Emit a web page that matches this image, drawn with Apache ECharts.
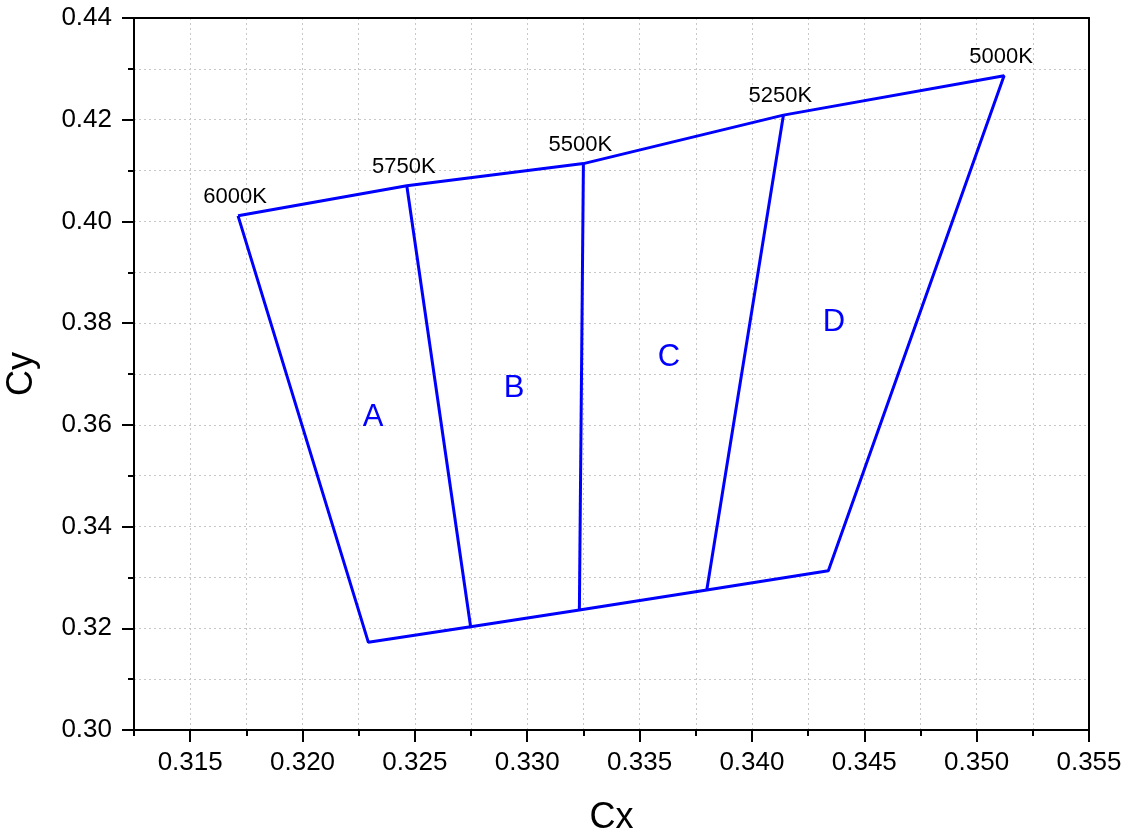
<!DOCTYPE html>
<html><head><meta charset="utf-8">
<script src="https://cdn.jsdelivr.net/npm/echarts@6/dist/echarts.min.js"></script>
<style>html,body{margin:0;padding:0;background:#fff}#c{width:1129px;height:834px}</style>
</head><body><div id="c"></div>
<script>
// CCT labels and top (Planckian side) points
const cctLabels = ['6000K', '5750K', '5500K', '5250K', '5000K'];
const topX = [0.31713, 0.32464, 0.33250, 0.34140, 0.35122];
const topY = [0.40110, 0.40700, 0.41137, 0.42090, 0.42865];
// bottom points (left to right)
const bottomX = [0.32293, 0.32748, 0.33232, 0.33799, 0.34340];
const bottomY = [0.31724, 0.32031, 0.32359, 0.32753, 0.33130];
// region labels
const regionNames = ['A', 'B', 'C', 'D'];
const regionX = [0.32314, 0.32941, 0.33631, 0.34365];
const regionY = [0.36154, 0.36724, 0.37334, 0.38022];
// ticks
const xMajorTicks = [0.315, 0.320, 0.325, 0.330, 0.335, 0.340, 0.345, 0.350, 0.355];
const yMajorTicks = [0.30, 0.32, 0.34, 0.36, 0.38, 0.40, 0.42, 0.44];

const FONT = 'Liberation Sans';
const BLUE = '#0000ff';

// outline: top edge then back along the bottom edge
const outline = [];
for (let i = 0; i < topX.length; i++) outline.push([topX[i], topY[i]]);
for (let i = bottomX.length - 1; i >= 0; i--) outline.push([bottomX[i], bottomY[i]]);
outline.push([topX[0], topY[0]]);

const series = [];
series.push({type: 'line', data: outline, symbol: 'none', lineStyle: {color: BLUE, width: 3}, z: 3, animation: false});
for (let i = 1; i <= 3; i++) {
  series.push({type: 'line', data: [[topX[i], topY[i]], [bottomX[i], bottomY[i]]], symbol: 'none',
    lineStyle: {color: BLUE, width: 3}, z: 3, animation: false});
}
series.push({type: 'scatter', symbolSize: 0, animation: false, z: 4, itemStyle: {opacity: 1},
  data: topX.map((x, i) => ({value: [x, topY[i]], name: cctLabels[i]})),
  label: {show: true, position: 'top', distance: 8, offset: [-3, 0], formatter: p => p.name, color: '#000', opacity: 1, fontSize: 22, fontFamily: FONT}
});
series.push({type: 'scatter', symbolSize: 0, animation: false, z: 4, itemStyle: {opacity: 1},
  data: regionX.map((x, i) => ({value: [x, regionY[i]], name: regionNames[i]})),
  label: {show: true, position: 'inside', formatter: p => p.name, color: BLUE, opacity: 1, fontSize: 31, fontFamily: FONT}
});

const axisLineStyle = {color: '#000', width: 2};
const gridLine = {show: true, lineStyle: {color: '#c8c8c8', width: 1, type: [2, 3]}};
const frameAxis = (pos) => ({
  type: 'value', min: pos === 'top' ? 0.3125 : 0.30, max: pos === 'top' ? 0.355 : 0.44, position: pos,
  axisLine: {show: true, onZero: false, lineStyle: axisLineStyle},
  axisTick: {show: false}, axisLabel: {show: false}, splitLine: {show: false}
});

const chart = echarts.init(document.getElementById('c'), null, {renderer: 'canvas'});
chart.setOption({
  animation: false,
  backgroundColor: '#fff',
  grid: {left: 134, right: 40, top: 18, bottom: 104, containLabel: false, outerBoundsMode: 'none'},
  xAxis: [{
    type: 'value', min: 0.3125, max: 0.355, interval: 0.0025,
    name: 'Cx', nameLocation: 'middle', nameGap: 70,
    nameTextStyle: {fontSize: 36, fontFamily: FONT, color: '#000'},
    axisLine: {show: true, onZero: false, lineStyle: axisLineStyle},
    axisTick: {show: true, length: 6, inside: false, lineStyle: {color: '#000', width: 2}},
    axisLabel: {show: false},
    splitLine: gridLine
  }, {
    type: 'value', min: 0.3125, max: 0.355, position: 'bottom',
    axisLine: {show: false},
    axisTick: {show: true, length: 12, customValues: xMajorTicks, lineStyle: {color: '#000', width: 2}},
    axisLabel: {show: true, customValues: xMajorTicks, formatter: v => v.toFixed(3), margin: 20, fontSize: 26, fontFamily: FONT, color: '#000'},
    splitLine: {show: false}
  }, frameAxis('top')],
  yAxis: [{
    type: 'value', min: 0.30, max: 0.44, interval: 0.01,
    name: 'Cy', nameLocation: 'middle', nameGap: 94,
    nameTextStyle: {fontSize: 36, fontFamily: FONT, color: '#000'},
    axisLine: {show: true, onZero: false, lineStyle: axisLineStyle},
    axisTick: {show: true, length: 6, inside: false, lineStyle: {color: '#000', width: 2}},
    axisLabel: {show: false},
    splitLine: gridLine
  }, {
    type: 'value', min: 0.30, max: 0.44, position: 'left',
    axisLine: {show: false},
    axisTick: {show: true, length: 12, customValues: yMajorTicks, lineStyle: {color: '#000', width: 2}},
    axisLabel: {show: true, customValues: yMajorTicks, formatter: v => v.toFixed(2), margin: 22, fontSize: 26, fontFamily: FONT, color: '#000'},
    splitLine: {show: false}
  }, frameAxis('right')],
  series: series
});
</script></body></html>
